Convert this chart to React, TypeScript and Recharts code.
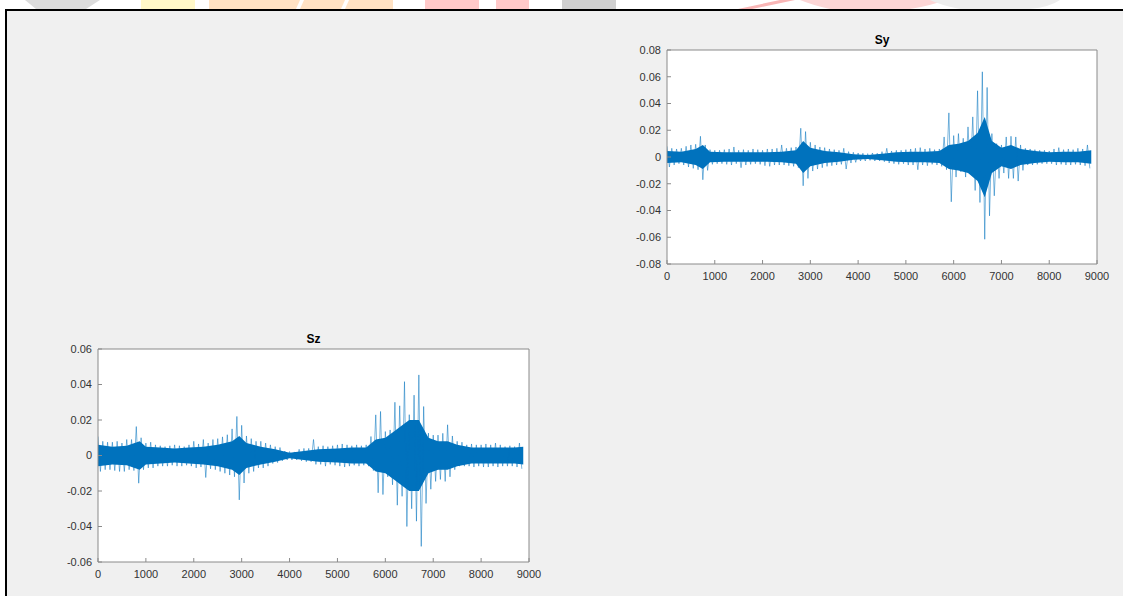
import React from 'react';
import { ComposedChart, Line, Area, XAxis, YAxis } from 'recharts';

// Each series is stored as a per-window envelope: the highest and lowest
// sample inside consecutive windows of 100 samples (0, 100, ..., 8800).
const windowSize = 100;

const syHigh = [
  0.008, 0.0065, 0.006, 0.0065, 0.008, 0.009, 0.0095, 0.0155, 0.009, 0.0055,
  0.005, 0.005, 0.0055, 0.006, 0.0075, 0.005, 0.0055, 0.005, 0.006, 0.0055,
  0.005, 0.006, 0.006, 0.0065, 0.009, 0.0065, 0.007, 0.0075, 0.0215, 0.019,
  0.011, 0.009, 0.0075, 0.007, 0.006, 0.0055, 0.005, 0.0065, 0.004, 0.0035,
  0.003, 0.0028, 0.0025, 0.003, 0.0028, 0.004, 0.0065, 0.0045, 0.005, 0.005,
  0.0055, 0.006, 0.0065, 0.007, 0.006, 0.0065, 0.0055, 0.006, 0.015, 0.033,
  0.016, 0.0175, 0.014, 0.0225, 0.03, 0.0495, 0.0637, 0.052, 0.0175, 0.01,
  0.009, 0.015, 0.0155, 0.015, 0.009, 0.0065, 0.006, 0.0055, 0.005, 0.005,
  0.0045, 0.006, 0.007, 0.0055, 0.006, 0.0055, 0.0065, 0.006, 0.009,
];

const syLow = [
  -0.0075, -0.006, -0.005, -0.006, -0.0075, -0.0085, -0.0095, -0.017, -0.01, -0.0055,
  -0.005, -0.005, -0.0055, -0.006, -0.005, -0.008, -0.006, -0.0055, -0.005, -0.0055,
  -0.0065, -0.007, -0.006, -0.006, -0.006, -0.0065, -0.007, -0.008, -0.0215, -0.016,
  -0.0105, -0.009, -0.008, -0.007, -0.0065, -0.006, -0.0055, -0.009, -0.0045, -0.004,
  -0.003, -0.003, -0.0025, -0.003, -0.003, -0.0035, -0.0045, -0.005, -0.0055, -0.005,
  -0.006, -0.006, -0.0095, -0.006, -0.0065, -0.0055, -0.006, -0.007, -0.0095, -0.0335,
  -0.015, -0.011, -0.015, -0.012, -0.025, -0.034, -0.0615, -0.044, -0.029, -0.016,
  -0.012, -0.016, -0.016, -0.018, -0.01, -0.006, -0.006, -0.0055, -0.005, -0.005,
  -0.005, -0.006, -0.0055, -0.006, -0.006, -0.0055, -0.006, -0.0065, -0.0085,
];

const szHigh = [
  0.0107, 0.008, 0.0075, 0.0075, 0.008, 0.007, 0.009, 0.009, 0.0163, 0.01,
  0.007, 0.0075, 0.006, 0.0055, 0.005, 0.0055, 0.006, 0.0055, 0.005, 0.006,
  0.008, 0.0065, 0.009, 0.007, 0.009, 0.0095, 0.0105, 0.0117, 0.015, 0.022,
  0.017, 0.011, 0.0095, 0.008, 0.008, 0.007, 0.006, 0.005, 0.0045, 0.0025,
  0.0022, 0.002, 0.0035, 0.004, 0.004, 0.009, 0.005, 0.0055, 0.005, 0.0055,
  0.006, 0.0065, 0.006, 0.0055, 0.006, 0.0055, 0.006, 0.0107, 0.0229, 0.0248,
  0.0135, 0.0144, 0.03, 0.028, 0.0416, 0.023, 0.034, 0.0454, 0.0276, 0.0126,
  0.0115, 0.0115, 0.0125, 0.0173, 0.011, 0.008, 0.0075, 0.006, 0.0065, 0.006,
  0.006, 0.0065, 0.006, 0.007, 0.006, 0.005, 0.0055, 0.005, 0.007,
];

const szLow = [
  -0.009, -0.008, -0.008, -0.0085, -0.009, -0.009, -0.008, -0.0085, -0.0156, -0.008,
  -0.007, -0.007, -0.006, -0.006, -0.006, -0.0055, -0.006, -0.006, -0.0055, -0.006,
  -0.007, -0.0065, -0.0124, -0.0075, -0.008, -0.009, -0.01, -0.011, -0.012, -0.025,
  -0.0155, -0.01, -0.009, -0.007, -0.007, -0.006, -0.0045, -0.004, -0.003, -0.0025,
  -0.0025, -0.0025, -0.003, -0.0035, -0.0035, -0.005, -0.005, -0.006, -0.005, -0.0055,
  -0.006, -0.0065, -0.006, -0.0055, -0.006, -0.0055, -0.006, -0.0085, -0.021, -0.022,
  -0.012, -0.0165, -0.028, -0.023, -0.04, -0.03, -0.037, -0.0512, -0.027, -0.019,
  -0.0146, -0.0135, -0.0146, -0.012, -0.008, -0.006, -0.006, -0.006, -0.0065, -0.006,
  -0.0065, -0.0065, -0.006, -0.0065, -0.006, -0.006, -0.006, -0.0065, -0.0075,
];

// Half-width of the dense core of each trace, at the listed sample indices.
const syCoreAt = [
  0, 300, 600, 750, 900, 1200, 1500, 1800, 2100, 2400, 2700, 2850, 3000, 3300,
  3600, 3900, 4200, 4500, 4800, 5100, 5400, 5700, 5900, 6100, 6300, 6500, 6650,
  6800, 7000, 7200, 7400, 7700, 8000, 8300, 8600, 8880,
];
const syCore = [
  0.0045, 0.004, 0.006, 0.009, 0.004, 0.0035, 0.0035, 0.0035, 0.0035, 0.004,
  0.005, 0.012, 0.007, 0.0045, 0.0035, 0.002, 0.0015, 0.0025, 0.0035, 0.004,
  0.004, 0.0045, 0.009, 0.01, 0.012, 0.018, 0.03, 0.012, 0.007, 0.009, 0.006,
  0.0045, 0.0035, 0.004, 0.004, 0.005,
];

const szCoreAt = [
  0, 300, 600, 870, 1000, 1300, 1600, 1900, 2200, 2500, 2800, 2950, 3100, 3400,
  3700, 4000, 4300, 4600, 5000, 5300, 5600, 5800, 6000, 6200, 6400, 6500, 6700,
  6900, 7100, 7300, 7500, 7800, 8100, 8400, 8700, 8880,
];
const szCore = [
  0.006, 0.005, 0.0055, 0.008, 0.005, 0.0045, 0.004, 0.0045, 0.005, 0.006,
  0.008, 0.011, 0.007, 0.005, 0.0035, 0.0015, 0.0025, 0.0035, 0.004, 0.0045,
  0.0045, 0.009, 0.01, 0.014, 0.018, 0.02, 0.02, 0.01, 0.008, 0.008, 0.006,
  0.0045, 0.0045, 0.0045, 0.0045, 0.005,
];

const sampleTicks = [0, 1000, 2000, 3000, 4000, 5000, 6000, 7000, 8000, 9000];
const syTicks = [-0.08, -0.06, -0.04, -0.02, 0, 0.02, 0.04, 0.06, 0.08];
const szTicks = [-0.06, -0.04, -0.02, 0, 0.02, 0.04, 0.06];

const TRACE = '#0072BD';
const AXIS = '#8a8a8a';
const LABEL = '#333333';
const FONT = '"Liberation Sans", Arial, Helvetica, sans-serif';

// Walk each window top-to-bottom so the trace sweeps its envelope.
function buildTrace(high: number[], low: number[]) {
  const pts: { n: number; v: number }[] = [];
  high.forEach((h, i) => {
    pts.push({ n: i * windowSize, v: h });
    pts.push({ n: i * windowSize + windowSize / 2, v: low[i] });
  });
  return pts;
}

function buildCore(at: number[], half: number[]) {
  return at.map((n, i) => ({ n, band: [-half[i], half[i]] }));
}

const fmtY = (v: number) => (v === 0 ? '0' : v.toFixed(2));

type PanelProps = {
  title: string;
  high: number[];
  low: number[];
  coreAt: number[];
  core: number[];
  yTicks: number[];
  left: number;
  top: number;
  plotW: number;
  plotH: number;
};

function Panel({ title, high, low, coreAt, core, yTicks, left, top, plotW, plotH }: PanelProps) {
  const trace = buildTrace(high, low);
  const band = buildCore(coreAt, core);
  const yAxisW = 50;
  const xAxisH = 30;
  const rightPad = 20;
  const width = yAxisW + plotW + rightPad;
  const height = 10 + plotH + xAxisH;
  const yDom: [number, number] = [yTicks[0], yTicks[yTicks.length - 1]];
  const tickStyle = { fontSize: 11, fill: LABEL, fontFamily: FONT };
  return (
    <>
      <div
        style={{
          position: 'absolute',
          left: left + yAxisW + plotW / 2 - 30,
          top: top - 7,
          width: 60,
          textAlign: 'center',
          font: `bold 12px ${FONT}`,
          lineHeight: '14px',
          color: '#000',
        }}
      >
        {title}
      </div>
      <div style={{ position: 'absolute', left, top }}>
        <ComposedChart
          width={width}
          height={height}
          margin={{ top: 9, right: rightPad - 1, bottom: 0, left: 0 }}
        >
          <rect x={yAxisW} y={10} width={plotW} height={plotH} fill="#ffffff" />
          <XAxis
            dataKey="n"
            type="number"
            domain={[0, 9000]}
            ticks={sampleTicks}
            allowDataOverflow
            height={xAxisH}
            tickSize={-4}
            tickMargin={12}
            axisLine={{ stroke: AXIS }}
            tickLine={{ stroke: AXIS }}
            tick={tickStyle}
          />
          <XAxis
            xAxisId="top"
            orientation="top"
            dataKey="n"
            type="number"
            domain={[0, 9000]}
            ticks={sampleTicks}
            height={1}
            tickSize={-4}
            tick={false}
            axisLine={{ stroke: AXIS }}
            tickLine={{ stroke: AXIS }}
          />
          <YAxis
            type="number"
            domain={yDom}
            ticks={yTicks}
            allowDataOverflow
            width={yAxisW}
            tickSize={-4}
            tickMargin={10}
            tickFormatter={fmtY}
            axisLine={{ stroke: AXIS }}
            tickLine={{ stroke: AXIS }}
            tick={tickStyle}
          />
          <YAxis
            yAxisId="right"
            orientation="right"
            type="number"
            domain={yDom}
            ticks={yTicks}
            width={1}
            tickSize={-4}
            tick={false}
            axisLine={{ stroke: AXIS }}
            tickLine={{ stroke: AXIS }}
          />
          <Area
            data={band}
            dataKey="band"
            type="linear"
            stroke="none"
            fill={TRACE}
            fillOpacity={1}
            dot={false}
            activeDot={false}
            isAnimationActive={false}
          />
          <Line
            data={trace}
            dataKey="v"
            type="linear"
            stroke={TRACE}
            strokeWidth={0.8}
            strokeOpacity={0.65}
            dot={false}
            activeDot={false}
            isAnimationActive={false}
          />
        </ComposedChart>
      </div>
    </>
  );
}

// Faint coloured shapes along the very top edge of the page.
function TopStrip() {
  return (
    <svg width={1123} height={9} style={{ position: 'absolute', left: 0, top: 0 }}>
      <polygon points="25,0 100,0 86,9 36,9" fill="#dcdcdc" />
      <rect x={141} y={0} width={54} height={9} fill="#fff8c8" />
      <polygon points="209,0 300,0 296,9 209,9" fill="#ffe2c4" />
      <polygon points="304,0 345,0 341,9 300,9" fill="#ffe2c4" />
      <polygon points="349,0 393,0 393,9 345,9" fill="#ffe2c4" />
      <rect x={425} y={0} width={54} height={9} fill="#ffc9c9" />
      <rect x={496} y={0} width={33} height={9} fill="#ffc9c9" />
      <rect x={562} y={0} width={54} height={9} fill="#d0d0d0" />
      <polygon points="780,0 795,0 752,9 738,9" fill="#f9b6b6" />
      <path d="M800,0 L945,0 Q930,6 910,9 L830,9 Q812,5 800,0 Z" fill="#fcd6d6" />
      <path d="M930,0 L1060,0 Q1050,7 1030,9 L960,9 Q940,5 930,0 Z" fill="#ededed" />
    </svg>
  );
}

export default function App() {
  return (
    <div
      style={{
        position: 'fixed',
        left: 0,
        top: 0,
        width: 1123,
        height: 596,
        overflow: 'hidden',
        background: '#ffffff',
      }}
    >
      <TopStrip />
      <div
        style={{
          position: 'absolute',
          left: 5,
          top: 9,
          width: 1123 - 5,
          height: 596 - 9,
          background: '#f0f0f0',
          borderTop: '2px solid #000',
          borderLeft: '2px solid #000',
          boxSizing: 'border-box',
        }}
      />
      <Panel title="Sy" high={syHigh} low={syLow} coreAt={syCoreAt} core={syCore} yTicks={syTicks} left={617} top={40} plotW={430} plotH={214} />
      <Panel title="Sz" high={szHigh} low={szLow} coreAt={szCoreAt} core={szCore} yTicks={szTicks} left={48} top={339} plotW={431} plotH={213} />
    </div>
  );
}
